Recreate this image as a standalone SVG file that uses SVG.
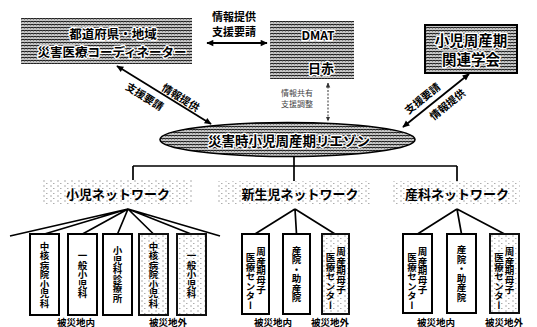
<svg xmlns="http://www.w3.org/2000/svg" width="537" height="327" viewBox="0 0 537 327">
<defs>
  <pattern id="grid" width="3" height="3" patternUnits="userSpaceOnUse">
    <rect width="3" height="3" fill="#c4c4c4"/>
    <path d="M0 0.5H3" stroke="#222" stroke-width="1"/>
    <path d="M0.5 0V3" stroke="#444" stroke-width="1" stroke-dasharray="1.5 1.5"/>
  </pattern>
  <pattern id="speck" width="7" height="5" patternUnits="userSpaceOnUse">
    <rect width="7" height="5" fill="#fff"/>
    <path d="M1 1h2M4 3.5h1.5" stroke="#999" stroke-width="0.8"/>
  </pattern>
  <marker id="ah" viewBox="0 0 10 10" refX="9" refY="5" markerWidth="8" markerHeight="7" orient="auto-start-reverse" markerUnits="userSpaceOnUse">
    <path d="M0 0.5 L10 5 L0 9.5 z" fill="#000"/>
  </marker>
  <marker id="ahs" viewBox="0 0 10 10" refX="9" refY="5" markerWidth="5" markerHeight="5" orient="auto-start-reverse" markerUnits="userSpaceOnUse">
    <path d="M0 0.5 L10 5 L0 9.5 z" fill="#333"/>
  </marker>
</defs>
<style>
  .t { font-family: "Noto Sans CJK JP", "Noto Sans", sans-serif; font-weight: 700; fill: #000; }
  .c { text-anchor: middle; dominant-baseline: central; }
  .halo { stroke: #fff; stroke-width: 2.5; paint-order: stroke; stroke-linejoin: round; }
  .ln { stroke: #000; stroke-width: 1.7; fill: none; }
  .arrow { stroke: #000; stroke-width: 1.8; fill: none; marker-start: url(#ah); marker-end: url(#ah); }
  .dot { stroke: #333; stroke-width: 1; fill: none; stroke-dasharray: 2 1.5; marker-start: url(#ahs); marker-end: url(#ahs); }
  .box { fill: #fff; stroke: #000; stroke-width: 2; }
  .sbox { fill: url(#speck); stroke: #111; stroke-width: 2; }
  .lab { fill: url(#speck); }
  .v { writing-mode: vertical-rl; font-size: 9.5px; }
  .vc { text-anchor: middle; }
  .sm { font-family: "Noto Sans CJK JP", "Noto Sans", sans-serif; font-size: 8px; fill: #444; text-anchor: middle; dominant-baseline: central; }
  .bl { font-size: 9.5px; }
</style>

<g id="connectors">
  <path class="arrow" d="M207 43 H267"/>
  <path class="arrow" d="M117 66 L211 124"/>
  <path class="arrow" d="M403 127 L469 74"/>
  <path class="dot" d="M328 83 V121"/>
  <path class="ln" d="M294 157 V166 M133 166 H457 M133 166 V181 M294 166 V181 M457 166 V181"/>
  <path class="ln" d="M128 209 L10 236 M128 209 L44.5 234 M128 209 L82.5 234 M128 209 L117.5 234 M128 209 L153.5 234 M128 209 L191 234 M128 209 L220 236"/>
  <path class="ln" d="M295 209 L255 234 M295 209 L296.5 234 M295 209 L335 234"/>
  <path class="ln" d="M457 209 L417.5 234 M457 209 L461.5 234 M457 209 L504.5 234"/>
  <text class="t c" font-size="11" x="234" y="16">情報提供</text>
  <text class="t c" font-size="11" x="234" y="31">支援要請</text>
  <text class="t c" font-size="10.5" x="181" y="97" transform="rotate(32 181 97)">情報提供</text>
  <text class="t c" font-size="10.5" x="145" y="96" transform="rotate(32 145 96)">支援要請</text>
  <text class="t c" font-size="10.5" x="422" y="98" transform="rotate(-39 422 98)">支援要請</text>
  <text class="t c" font-size="10.5" x="447" y="104" transform="rotate(-39 447 104)">情報提供</text>
  <text class="sm" x="297" y="92">情報共有</text>
  <text class="sm" x="297" y="103">支援調整</text>
</g>

<g id="coordinator">
  <rect x="21" y="18" width="171" height="46" fill="url(#grid)"/>
  <text class="t c halo" font-size="12.5" x="113" y="33">都道府県・地域</text>
  <text class="t c halo" font-size="12.5" x="112" y="51">災害医療コーディネーター</text>
</g>

<g id="dmat">
  <rect x="270" y="21" width="84" height="58" fill="url(#grid)"/>
  <text class="t c halo" font-size="12" x="318" y="34">DMAT</text>
  <text class="t c halo" font-size="13" x="321" y="67">日赤</text>
</g>

<g id="society">
  <rect x="425" y="25" width="92" height="48" fill="url(#grid)" stroke="#000" stroke-width="2"/>
  <text class="t c halo" font-size="14.5" x="471" y="39.5">小児周産期</text>
  <text class="t c halo" font-size="14.5" x="471" y="58.5">関連学会</text>
</g>

<g id="liaison">
  <ellipse cx="287.5" cy="139.5" rx="127.5" ry="17" fill="url(#grid)" stroke="#000" stroke-width="1.6"/>
  <text class="t c halo" font-size="13.5" x="289" y="140">災害時小児周産期リエゾン</text>
</g>

<g id="net-pediatric">
  <rect class="lab" x="43" y="180" width="149" height="25"/>
  <text class="t c" font-size="13" x="118" y="193">小児ネットワーク</text>
</g>
<g id="net-neonatal">
  <rect class="lab" x="218" y="181" width="152" height="24"/>
  <text class="t c" font-size="13" x="300" y="193">新生児ネットワーク</text>
</g>
<g id="net-obstetric">
  <rect class="lab" x="392" y="181" width="128" height="24"/>
  <text class="t c" font-size="13" x="457" y="193">産科ネットワーク</text>
</g>

<g id="p1">
  <rect class="box" x="30" y="234" width="29" height="81"/>
  <text class="t v vc" x="44.5" y="274.5">中核病院小児科</text>
</g>
<g id="p2">
  <rect class="box" x="68" y="234" width="29" height="81"/>
  <text class="t v vc" x="82.5" y="274.5">一般小児科</text>
</g>
<g id="p3">
  <rect class="box" x="103" y="234" width="29" height="81"/>
  <text class="t v vc" x="117.5" y="274.5">小児科診療所</text>
</g>
<g id="p4">
  <rect class="sbox" x="139" y="234" width="29" height="81"/>
  <text class="t v vc" x="153.5" y="274.5">中核病院小児科</text>
</g>
<g id="p5">
  <rect class="sbox" x="177" y="234" width="29" height="81"/>
  <text class="t v vc" x="191.5" y="274.5">一般小児科</text>
</g>
<g id="p-labels">
  <text class="t c bl" x="76" y="321.5">被災地内</text>
  <text class="t c bl" x="168" y="321.5">被災地外</text>
</g>

<g id="n1">
  <rect class="box" x="242" y="234" width="27" height="80"/>
  <text class="t v" x="261" y="247">周産期母子</text>
  <text class="t v" x="250.5" y="253">医療センター</text>
</g>
<g id="n2">
  <rect class="box" x="283" y="234" width="27" height="80"/>
  <text class="t v vc" x="296.5" y="274">産院・助産院</text>
</g>
<g id="n3">
  <rect class="sbox" x="322" y="234" width="27" height="80"/>
  <text class="t v" x="341" y="247">周産期母子</text>
  <text class="t v" x="330.5" y="253">医療センター</text>
</g>
<g id="n-labels">
  <text class="t c bl" x="273" y="321.5">被災地内</text>
  <text class="t c bl" x="330" y="321.5">被災地外</text>
</g>

<g id="o1">
  <rect class="box" x="403" y="234" width="29" height="79"/>
  <text class="t v" x="422.5" y="247">周産期母子</text>
  <text class="t v" x="412" y="253">医療センター</text>
</g>
<g id="o2">
  <rect class="box" x="447" y="234" width="29" height="79"/>
  <text class="t v vc" x="461.5" y="273.5">産院・助産院</text>
</g>
<g id="o3">
  <rect class="sbox" x="490" y="234" width="29" height="79"/>
  <text class="t v" x="509.5" y="247">周産期母子</text>
  <text class="t v" x="499" y="253">医療センター</text>
</g>
<g id="o-labels">
  <text class="t c bl" x="436" y="321.5">被災地内</text>
  <text class="t c bl" x="504" y="321.5">被災地外</text>
</g>
</svg>
